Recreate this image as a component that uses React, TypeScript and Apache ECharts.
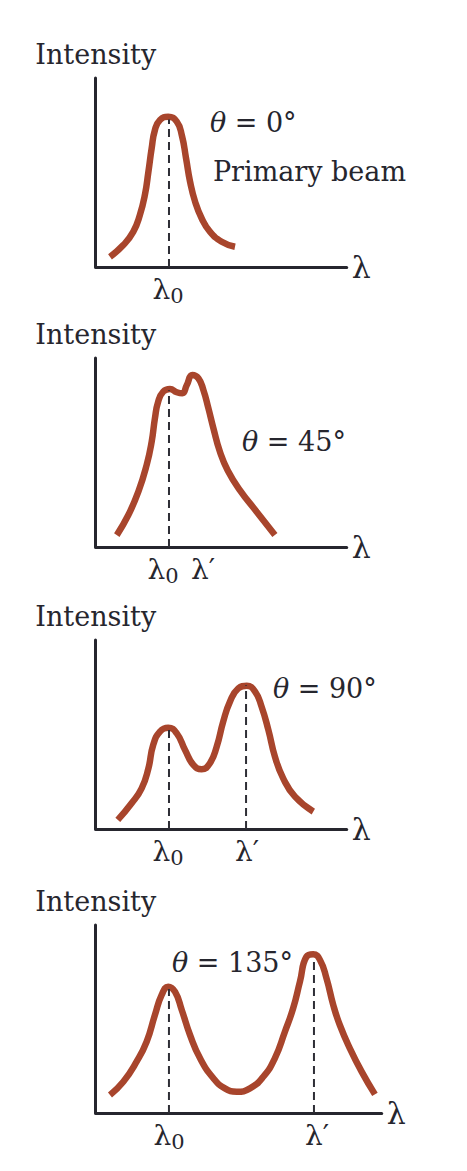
import React, { useEffect, useRef } from "react";
import * as echarts from "echarts";

// ---- Data (arbitrary units: x = wavelength, y = intensity) ----
const lambda0 = 29.2;

const curve0: number[][] = [
  [5.7, 5.4], [11.0, 11.6], [15.0, 18.7], [17.6, 27.5], [19.6, 38.1], [21.0, 50.4],
  [22.3, 62.8], [23.6, 72.5], [25.6, 77.8], [28.9, 79.5], [32.3, 76.9], [34.3, 69.8],
  [36.0, 57.5], [37.6, 45.1], [39.6, 34.6], [42.2, 25.8], [45.5, 18.7], [50.2, 13.4],
  [55.5, 10.7],
];
const curve45: number[][] = [
  [8.4, 6.3], [13.0, 16.9], [17.0, 29.3], [20.3, 43.4], [22.3, 55.7], [23.6, 68.1],
  [24.9, 76.9], [26.9, 82.2], [29.6, 83.6], [32.3, 81.9], [34.5, 81.3], [36.3, 85.7],
  [38.5, 91.0], [40.9, 89.3], [42.9, 83.1], [44.9, 73.4], [46.9, 62.8], [49.5, 50.4],
  [52.6, 40.5], [57.5, 30.0], [64.1, 18.7], [71.4, 6.3],
];
const curve90: number[][] = [
  [8.8, 4.8], [14.3, 13.6], [18.3, 21.5], [21.0, 32.1], [22.9, 44.4], [25.6, 51.5],
  [28.9, 53.6], [32.3, 50.6], [35.6, 41.8], [38.9, 33.9], [42.2, 31.6], [45.5, 34.8],
  [48.2, 43.5], [50.8, 56.8], [53.5, 67.4], [56.8, 74.4], [60.2, 75.8], [63.5, 72.7],
  [66.1, 64.7], [68.8, 52.4], [71.4, 38.3], [74.7, 26.8], [79.4, 17.1], [86.7, 9.2],
];
const curve135: number[][] = [
  [5.7, 9.6], [11.0, 16.6], [16.3, 27.3], [20.3, 37.9], [23.6, 52.1], [26.3, 62.8],
  [28.9, 67.2], [31.6, 64.5], [34.3, 54.8], [37.6, 41.5], [41.6, 29.1], [46.9, 18.5],
  [51.5, 13.1], [56.2, 11.3], [61.5, 13.1], [66.8, 19.3], [71.4, 29.1], [75.4, 43.2],
  [78.7, 55.7], [81.4, 69.8], [84.0, 83.1], [86.7, 84.4], [89.4, 81.4], [92.0, 71.6],
  [94.7, 57.4], [97.3, 46.8], [101.3, 34.4], [106.0, 22.0], [111.3, 9.9],
];

// shifted wavelength per panel (null for primary beam)
const lambdaPrime: (number | null)[] = [null, 39.2, 59.9, 87.0];
// dashed-line heights: [at lambda0, at lambda']
const dashHeights: number[][] = [[78], [83], [54, 76], [66, 83]];
const xMax: number[] = [100, 100, 100, 114];
const angleLabels: string[] = ["0°", "45°", "90°", "135°"];
const anglePos: number[][] = [[45.5, 76.7], [58.3, 55.6], [70.6, 74.6], [30.4, 79.8]];
const beamLabelPos: number[] = [46.7, 50.3];

// ---- Layout ----
const grids = [
  { left: 95.7, top: 78, width: 251, height: 189 },
  { left: 95.7, top: 358, width: 251, height: 189 },
  { left: 95.7, top: 640, width: 251, height: 189 },
  { left: 95.7, top: 925, width: 286, height: 188 },
];
// horizontal nudges of the tick labels [lambda0, lambda'] (px, + = right)
const labelNudge: number[][] = [[-1, 0], [-6, 9], [-1, 1], [0, 3]];

const FONT = "DejaVu Serif";
const TEXT = "#26262e";
const CURVE = "#a8452c";

export default function App() {
  const ref = useRef<HTMLDivElement>(null);
  useEffect(() => {
    if (!ref.current) return;
    const chart = echarts.init(ref.current, undefined, { renderer: "svg" });
    const curves = [curve0, curve45, curve90, curve135];

    const xAxes: any[] = [];
    const yAxes: any[] = [];
    const series: any[] = [];
    const base = (gi: number) => ({
      gridIndex: gi,
      type: "value",
      position: "bottom",
      min: 0,
      max: xMax[gi],
      axisTick: { show: false },
      splitLine: { show: false },
    });

    grids.forEach((_, i) => {
      const lp = lambdaPrime[i];
      const n0 = labelNudge[i][0];
      const n1 = labelNudge[i][1];
      const mainAxis = xAxes.length;
      // main axis: line, name and the lambda0 label
      xAxes.push({
        ...base(i),
        name: "λ",
        nameLocation: "end",
        nameGap: 5,
        nameTextStyle: { fontFamily: FONT, fontSize: 30, color: TEXT },
        axisLine: { show: true, lineStyle: { color: TEXT, width: 3 } },
        axisLabel: {
          show: true,
          customValues: [lambda0],
          margin: 5,
          formatter: () => "{a|λ}{s|0}",
          rich: {
            a: {
              fontFamily: FONT, fontSize: 28, color: TEXT, lineHeight: 34, verticalAlign: "middle",
              padding: n0 > 0 ? [0, 0, 0, 2 * n0] : [0, 0, 0, 0],
            },
            s: {
              fontFamily: FONT, fontSize: 21, color: TEXT, lineHeight: 22, verticalAlign: "bottom",
              padding: n0 < 0 ? [0, -2 * n0, 0, 0] : [0, 0, 0, 0],
            },
          },
        },
      });
      // companion axis for the lambda' label
      if (lp != null) {
        xAxes.push({
          ...base(i),
          axisLine: { show: false },
          axisLabel: {
            show: true,
            customValues: [lp],
            margin: 5,
            formatter: () => "{b|λ′}",
            rich: {
              b: {
                fontFamily: FONT, fontSize: 28, color: TEXT, lineHeight: 34, verticalAlign: "middle",
                padding: n1 >= 0 ? [0, 0, 0, 2 * n1] : [0, -2 * n1, 0, 0],
              },
            },
          },
        });
      }
      yAxes.push({
        gridIndex: i,
        type: "value",
        min: 0,
        max: 100,
        name: "Intensity",
        nameLocation: "end",
        nameGap: 10,
        nameTextStyle: { fontFamily: FONT, fontSize: 27, color: TEXT },
        axisLine: { show: true, lineStyle: { color: TEXT, width: 3 } },
        axisTick: { show: false },
        axisLabel: { show: false },
        splitLine: { show: false },
      });

      series.push({
        type: "line",
        xAxisIndex: mainAxis,
        yAxisIndex: i,
        data: curves[i],
        smooth: 0.5,
        symbol: "none",
        lineStyle: { color: CURVE, width: 6.5 },
        z: 2,
      });

      const xs = lp == null ? [lambda0] : [lambda0, lp];
      xs.forEach((x, k) => {
        series.push({
          type: "line",
          xAxisIndex: mainAxis,
          yAxisIndex: i,
          data: [[x, 0], [x, dashHeights[i][k]]],
          symbol: "none",
          lineStyle: { color: "#2e2e36", width: 2, type: [8, 5] },
          z: 3,
        });
      });
    });

    chart.setOption({
      animation: false,
      backgroundColor: "#ffffff",
      grid: grids.map((g) => ({ ...g, containLabel: false })),
      xAxis: xAxes,
      yAxis: yAxes,
      series,
    });

    // annotation texts, positioned through each panel's scales
    const texts: any[] = [];
    grids.forEach((_, i) => {
      const p = chart.convertToPixel({ gridIndex: i }, anglePos[i]) as number[];
      texts.push({
        type: "text",
        x: p[0],
        y: p[1],
        z: 10,
        style: {
          text: "{t|θ} = " + angleLabels[i],
          fontFamily: FONT,
          fontSize: 27,
          fill: TEXT,
          align: "left",
          verticalAlign: "middle",
          rich: { t: { fontFamily: FONT, fontStyle: "italic", fontSize: 27, fill: TEXT } },
        },
      });
    });
    const pb = chart.convertToPixel({ gridIndex: 0 }, beamLabelPos) as number[];
    texts.push({
      type: "text",
      x: pb[0],
      y: pb[1],
      z: 10,
      style: {
        text: "Primary beam",
        fontFamily: FONT,
        fontSize: 27,
        fill: TEXT,
        align: "left",
        verticalAlign: "middle",
      },
    });
    chart.setOption({ graphic: texts });

    return () => chart.dispose();
  }, []);
  return (
    <div
      ref={ref}
      style={{ position: "absolute", left: 0, top: 0, width: 467, height: 1171 }}
    />
  );
}
